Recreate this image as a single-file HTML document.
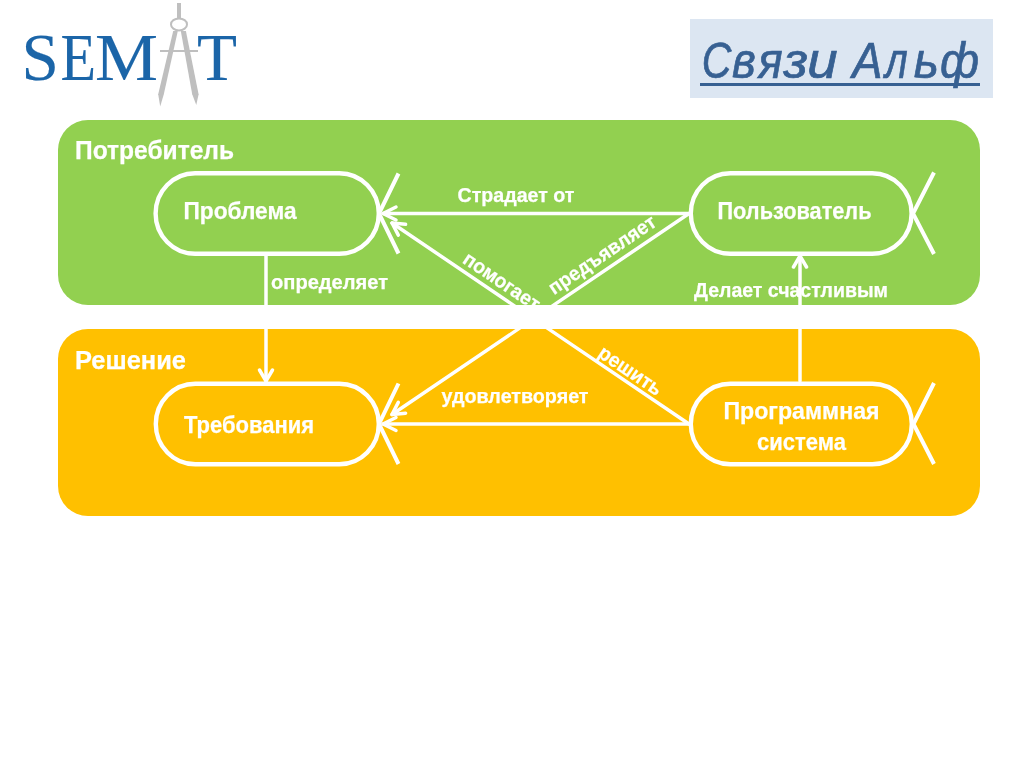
<!DOCTYPE html>
<html><head><meta charset="utf-8"><title>Связи Альф</title>
<style>
html,body{margin:0;padding:0;background:#fff;width:1024px;height:767px;overflow:hidden}
svg{display:block;will-change:transform}
</style></head><body>
<svg width="1024" height="767" viewBox="0 0 1024 767">
<rect x="0" y="0" width="1024" height="767" fill="#fff"/>

<!-- SEMAT logo -->
<g font-family="Liberation Serif" fill="#1b65a8" stroke="#1b65a8" stroke-width="0.15" font-size="68">
  <text x="21.5" y="79.5" textLength="37.4" lengthAdjust="spacingAndGlyphs">S</text>
  <text x="60.5" y="79.5" textLength="35.5" lengthAdjust="spacingAndGlyphs">E</text>
  <text x="95" y="79.5" textLength="63" lengthAdjust="spacingAndGlyphs">M</text>
  <text x="197" y="79.5" textLength="40" lengthAdjust="spacingAndGlyphs">T</text>
</g>
<g fill="#bfbfbf" stroke="none">
  <rect x="177" y="3" width="4" height="15"/>
  <ellipse cx="179" cy="24.4" rx="8" ry="6" fill="none" stroke="#bfbfbf" stroke-width="2"/>
  <polygon points="173.2,31 177.8,31 163.8,94.3 160.2,106.6 158.2,94.3"/>
  <polygon points="180.8,31 185.9,31 198.6,94.3 196.3,104.9 192.2,94.3"/>
  <rect x="160" y="50" width="38" height="2"/>
</g>

<!-- title box -->
<rect x="690" y="19" width="303" height="79" fill="#dce6f2"/>
<g font-family="Liberation Sans" font-style="italic" font-size="50" fill="#376092" stroke="#376092" stroke-width="0.7">
  <text transform="translate(701.8,78) scale(0.820,1)">С</text>
  <text transform="translate(731.9,78) scale(0.912,1)">в</text>
  <text transform="translate(758.3,78) scale(0.911,1)">я</text>
  <text transform="translate(783.4,78) scale(1.055,1)">з</text>
  <text transform="translate(807.2,78) scale(1.092,1)">и</text>
  <text transform="translate(852.2,78) scale(0.906,1)">А</text>
  <text transform="translate(884.9,78) scale(0.803,1)">л</text>
  <text transform="translate(913.7,78) scale(0.957,1)">ь</text>
  <text transform="translate(940.1,78) scale(0.935,1)">ф</text>
</g>
<rect x="700" y="83" width="280" height="3" fill="#376092"/>

<!-- panels -->
<rect x="58" y="120" width="922" height="185" rx="30" ry="30" fill="#92d050"/>
<rect x="58" y="329" width="922" height="187" rx="30" ry="30" fill="#ffc000"/>

<!-- nodes -->
<g fill="none" stroke="#fff" stroke-width="4.4">
  <path d="M195.1,173.2 H339.3 A39.5,40.30 0 0 1 378.8,213.50 A39.5,40.30 0 0 1 339.3,253.8 H195.1 A39.5,40.30 0 0 1 155.6,213.50 A39.5,40.30 0 0 1 195.1,173.2 Z"/>
  <path d="M730.3,173.2 H872.1 A39.5,40.30 0 0 1 911.6,213.50 A39.5,40.30 0 0 1 872.1,253.8 H730.3 A39.5,40.30 0 0 1 690.8,213.50 A39.5,40.30 0 0 1 730.3,173.2 Z"/>
  <path d="M195.3,383.7 H339.3 A39.5,40.30 0 0 1 378.8,424.00 A39.5,40.30 0 0 1 339.3,464.3 H195.3 A39.5,40.30 0 0 1 155.8,424.00 A39.5,40.30 0 0 1 195.3,383.7 Z"/>
  <path d="M730.3,383.7 H872.3 A39.5,40.30 0 0 1 911.8,424.00 A39.5,40.30 0 0 1 872.3,464.3 H730.3 A39.5,40.30 0 0 1 690.8,424.00 A39.5,40.30 0 0 1 730.3,383.7 Z"/>
</g>
<!-- crosses -->
<g fill="none" stroke="#fff" stroke-width="4" stroke-linecap="butt" stroke-linejoin="miter">
  <polyline points="398.5,173.5 379,213.5 398.5,253.5"/>
  <polyline points="934,172.5 913,213.5 934,254"/>
  <polyline points="398.5,383.5 379,424 398.5,464"/>
  <polyline points="934,383 913.5,424 934,464"/>
</g>
<!-- connectors -->
<g fill="none" stroke="#fff" stroke-width="3.5" stroke-linecap="round" stroke-linejoin="round">
  <line x1="689" y1="213.5" x2="383" y2="213.5"/>
  <polyline points="396,207 383,213.5 396,220"/>
  <line x1="689" y1="424" x2="383" y2="424"/>
  <polyline points="396,417.5 383,424 396,430.5"/>
  <line x1="689" y1="213.5" x2="392" y2="414.5"/>
  <line x1="689" y1="424" x2="392" y2="223"/>
  <line x1="266" y1="256" x2="266" y2="381"/>
  <polyline points="259.5,370 266,381 272.5,370"/>
  <line x1="800" y1="381" x2="800" y2="256"/>
  <polyline points="793.5,267 800,256 806.5,267"/>
</g>
<g fill="none" stroke="#fff" stroke-width="3.5" stroke-linecap="round" stroke-linejoin="round">
  <polyline points="405.6,413.2 392.0,414.5 398.3,402.4"/>
  <polyline points="398.3,235.1 392.0,223.0 405.6,224.3"/>
</g>

<!-- labels -->
<g font-family="Liberation Sans" font-weight="bold" fill="#fff" stroke="#fff" stroke-width="0.25">
  <text x="75" y="159.3" font-size="25" textLength="159" lengthAdjust="spacingAndGlyphs">Потребитель</text>
  <text x="75" y="369.3" font-size="25" textLength="111" lengthAdjust="spacingAndGlyphs">Решение</text>
  <text x="183.5" y="218.6" font-size="23.2" textLength="113" lengthAdjust="spacingAndGlyphs">Проблема</text>
  <text x="717.5" y="218.8" font-size="23.2" textLength="154" lengthAdjust="spacingAndGlyphs">Пользователь</text>
  <text x="184" y="433.4" font-size="23.2" textLength="130" lengthAdjust="spacingAndGlyphs">Требования</text>
  <text x="723.5" y="419.2" font-size="23.2" textLength="156" lengthAdjust="spacingAndGlyphs">Программная</text>
  <text x="757" y="449.6" font-size="23.2" textLength="89" lengthAdjust="spacingAndGlyphs">система</text>
  <text x="457.5" y="202.3" font-size="19.5" textLength="117" lengthAdjust="spacingAndGlyphs">Страдает от</text>
  <text x="271" y="289" font-size="19.5" textLength="117" lengthAdjust="spacingAndGlyphs">определяет</text>
  <text x="694" y="297" font-size="19.5" textLength="194" lengthAdjust="spacingAndGlyphs">Делает счастливым</text>
  <text x="441.5" y="403.2" font-size="19.5" textLength="147" lengthAdjust="spacingAndGlyphs">удовлетворяет</text>
  <text transform="translate(461.6,262.3) rotate(34)" font-size="20" textLength="88" lengthAdjust="spacingAndGlyphs">помогает</text>
  <text transform="translate(554,295.2) rotate(-34)" font-size="20" textLength="125" lengthAdjust="spacingAndGlyphs">предъявляет</text>
  <text transform="translate(596.7,356) rotate(34)" font-size="20.3" textLength="72.4" lengthAdjust="spacingAndGlyphs">решить</text>
</g>
</svg>
</body></html>
